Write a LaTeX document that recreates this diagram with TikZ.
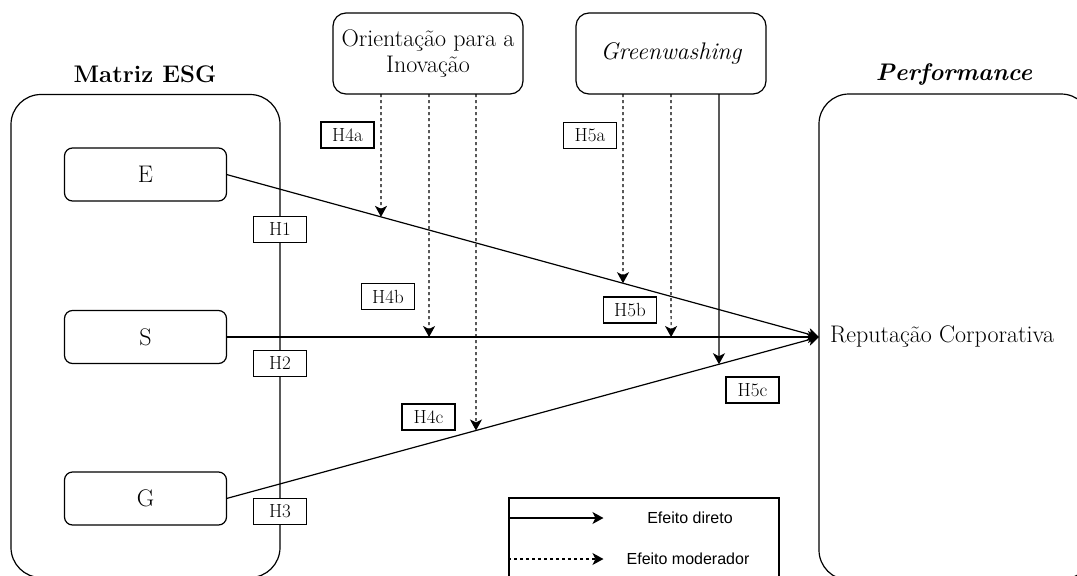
\documentclass[tikz,border=0pt]{standalone}
\usepackage{fontspec}
\newfontfamily\legfont{Liberation Sans}
\usetikzlibrary{calc}
\usetikzlibrary{arrows.meta}

\tikzset{
  bigbox/.style={draw, line width=1.2pt, rounded corners=30pt, inner sep=0pt, outer sep=0pt},
  dimbox/.style={draw, line width=1.2pt, rounded corners=8pt, minimum width=162pt, minimum height=53pt, outer sep=0pt, font=\fontsize{24}{26}\selectfont},
  modbox/.style={draw, line width=1.2pt, rounded corners=13pt, minimum width=190pt, minimum height=81pt, outer sep=0pt, align=center, font=\fontsize{24}{26}\selectfont},
  hyp/.style={draw, fill=white, line width=1.1pt, minimum width=53pt, minimum height=26pt, inner sep=0pt, font=\fontsize{19}{20}\selectfont},
  direto/.style={line width=1.2pt, -{Stealth[length=11pt,width=12pt,inset=3pt]}},
  moder/.style={direto, dash pattern=on 3pt off 3pt},
}

\begin{document}
\begin{tikzpicture}[x=1pt, y=-1pt]
\useasboundingbox (0,0) rectangle (1077,576);

\node[bigbox, minimum width=269pt, minimum height=483pt] (esg) at (145.5,336) {};
\node[bigbox, minimum width=272pt, minimum height=486pt] (perf) at (955,337) {};
\node[font=\fontsize{24}{26}\selectfont\bfseries] (esgtit) at (145,74) {Matriz ESG};
\node[font=\fontsize{24}{26}\selectfont\bfseries\itshape] (perftit) at (954,74) {Performance};
\node[font=\fontsize{24}{26}\selectfont] (rep) at (942,337) {Reputação Corporativa};
\coordinate (tgt) at (819,337);

\node[dimbox] (E) at (145.5,174.5) {E};
\node[dimbox] (S) at (145.5,337) {S};
\node[dimbox] (G) at (145.5,498.5) {G};

\node[modbox] (orient) at (428,53.5) {Orientação para a\\Inovação};
\node[modbox] (green) at (671,53.5) {\itshape Greenwashing};

\foreach \dim in {E, S, G}
  \draw[direto] (\dim.east) -- (tgt);

\foreach \src/\dx/\dim/\sty in {orient/-47/E/moder, orient/1/S/moder, orient/48/G/moder,
    green/-48/E/moder, green/0/S/moder, green/48/G/direto}
  \draw[\sty] ($(\src.south)+(\dx,0)$) coordinate (top) --
    (intersection cs: first line={(\dim.east)--(tgt)}, second line={(top)--($(top)+(0,10)$)});

\foreach \name/\x/\y/\txt in {h1/280/229.5/1, h2/280/363.5/2, h3/280/511.5/3,
    h4a/347.5/135/4a, h4b/388/296.5/4b, h4c/428.5/417/4c,
    h5a/590/135.5/5a, h5b/630/310/5b, h5c/752.5/390/5c}
  \node[hyp] (\name) at (\x,\y) {H\oldstylenums{\txt}};

\node[draw, line width=1.1pt, minimum width=270pt, minimum height=110pt, inner sep=0pt] (legend) at (644,553) {};
\coordinate (l1) at (legend.west |- 0,518);
\coordinate (l2) at (legend.west |- 0,559);
\draw[direto] (l1) -- ++(95,0);
\draw[moder] (l2) -- ++(95,0);
\node[font=\legfont\fontsize{16}{18}\selectfont] (ldir) at (690,518) {Efeito direto};
\node[font=\legfont\fontsize{16}{18}\selectfont] (lmod) at (688,559) {Efeito moderador};
\end{tikzpicture}
\end{document}
